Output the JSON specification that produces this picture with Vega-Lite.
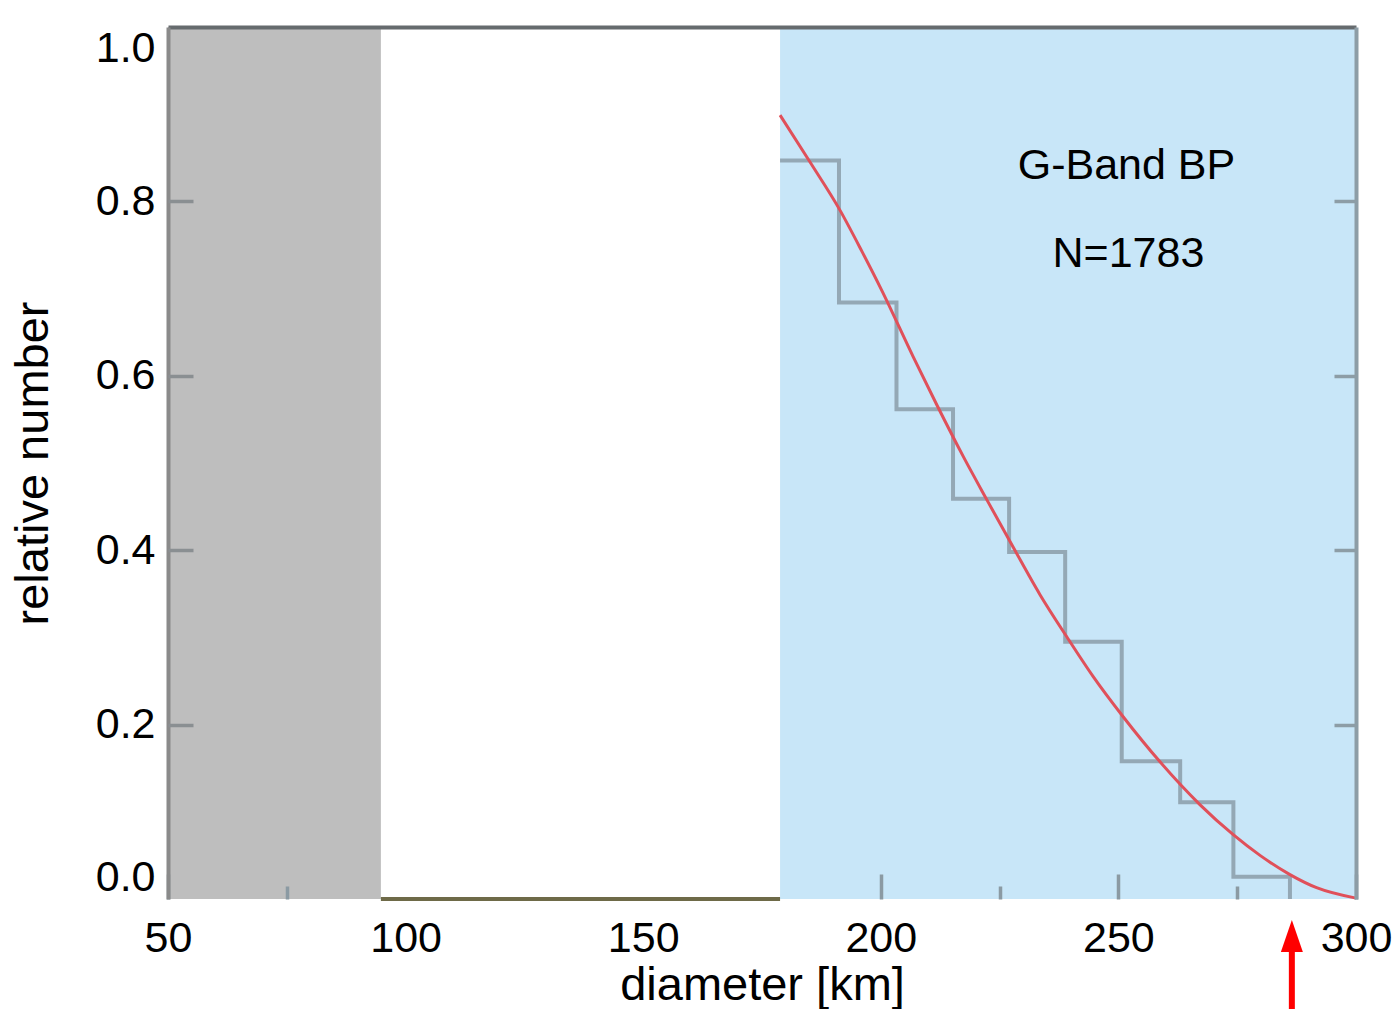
{
  "$schema": "https://vega.github.io/schema/vega-lite/v6.json",
  "width": 1188,
  "height": 872,
  "autosize": {"type": "none"},
  "padding": {"left": 168, "top": 27, "right": 42, "bottom": 110},
  "background": "white",
  "config": {
    "view": {"stroke": null},
    "font": "Liberation Sans",
    "axis": {"grid": false, "labelColor": "black", "titleColor": "black", "titleFontWeight": "normal", "labelFont": "Liberation Sans", "titleFont": "Liberation Sans"}
  },
  "datasets": {
    "bands": [
      {"x0": 50, "x1": 94.8, "band": "excluded"},
      {"x0": 178.8, "x1": 300, "band": "fitted"}
    ],
    "zero": [{"x0": 94.8, "x1": 178.8, "f": 0}],
    "hist": [
      {"d": 178.8, "f": 0.847},
      {"d": 191.2, "f": 0.684},
      {"d": 203.3, "f": 0.5615},
      {"d": 215.2, "f": 0.459},
      {"d": 227.0, "f": 0.398},
      {"d": 238.8, "f": 0.295},
      {"d": 250.7, "f": 0.158},
      {"d": 263.0, "f": 0.111},
      {"d": 274.2, "f": 0.0256},
      {"d": 286.1, "f": 0}
    ],
    "fit": [
      {"d": 178.8, "f": 0.899},
      {"d": 185.0, "f": 0.846},
      {"d": 191.4, "f": 0.79},
      {"d": 196.0, "f": 0.743},
      {"d": 200.2, "f": 0.698},
      {"d": 206.8, "f": 0.622},
      {"d": 211.8, "f": 0.5665},
      {"d": 217.4, "f": 0.507},
      {"d": 222.3, "f": 0.458},
      {"d": 227.9, "f": 0.403},
      {"d": 233.5, "f": 0.349},
      {"d": 239.1, "f": 0.301},
      {"d": 244.7, "f": 0.255},
      {"d": 251.0, "f": 0.209},
      {"d": 258.8, "f": 0.157},
      {"d": 267.2, "f": 0.108},
      {"d": 274.1, "f": 0.074},
      {"d": 279.8, "f": 0.05},
      {"d": 286.1, "f": 0.028},
      {"d": 291.7, "f": 0.013},
      {"d": 300.0, "f": 0.001}
    ],
    "notes": [
      {"d": 251.7, "f": 0.841, "t": "G-Band BP"},
      {"d": 252.1, "f": 0.74, "t": "N=1783"}
    ],
    "arrow": [{"d": 286.5, "tail": -0.13, "neck": -0.055, "head": -0.0424}]
  },
  "resolve": {"axis": {"x": "independent", "y": "independent"}},
  "layer": [
    {
      "data": {"name": "bands"},
      "mark": {"type": "rect", "opacity": 1},
      "encoding": {
        "x": {"field": "x0", "type": "quantitative",
          "scale": {"domain": [50, 300], "nice": false, "zero": false},
          "axis": {"orient": "bottom", "values": [50, 100, 150, 200, 250, 300], "format": "d", "ticks": false, "domain": false,
            "labelFlush": false, "labelFontSize": 43, "labelPadding": 18, "title": "diameter [km]", "titleFontSize": 47, "titlePadding": 2, "zindex": 1}},
        "x2": {"field": "x1"},
        "y": {"datum": 0, "type": "quantitative",
          "scale": {"domain": [0, 1], "nice": false, "zero": false},
          "axis": {"orient": "left", "values": [0, 0.2, 0.4, 0.6, 0.8, 1.0], "format": ".1f", "ticks": false, "domain": true,
            "domainColor": "#8a8a8a", "domainWidth": 4, "labelFontSize": 43, "labelPadding": 13, "labelFlush": true,
            "title": "relative number", "titleFontSize": 47, "titlePadding": 38, "zindex": 1}},
        "y2": {"datum": 1},
        "color": {"field": "band", "type": "nominal", "scale": {"domain": ["excluded", "fitted"], "range": ["#bebebe", "#c8e6f8"]}, "legend": null}
      }
    },
    {
      "mark": {"type": "rule", "color": "#666b6e", "strokeWidth": 4},
      "encoding": {
        "x": {"datum": 50, "type": "quantitative", "axis": null},
        "x2": {"datum": 300},
        "y": {"datum": 0, "type": "quantitative", "axis": null}
      }
    },
    {
      "data": {"name": "zero"},
      "mark": {"type": "rule", "color": "#6e6a48", "strokeWidth": 4},
      "encoding": {
        "x": {"field": "x0", "type": "quantitative", "axis": null},
        "x2": {"field": "x1"},
        "y": {"field": "f", "type": "quantitative", "axis": null}
      }
    },
    {
      "mark": {"type": "rule", "color": "#9aa8b1", "strokeWidth": 3.5},
      "encoding": {
        "x": {"datum": 178.8, "type": "quantitative", "axis": null},
        "y": {"datum": 0.847, "type": "quantitative", "axis": null},
        "y2": {"datum": 1.022}
      }
    },
    {
      "data": {"name": "hist"},
      "mark": {"type": "line", "interpolate": "step-after", "color": "#94a8b5", "strokeWidth": 4},
      "encoding": {
        "x": {"field": "d", "type": "quantitative",
          "axis": {"orient": "bottom", "values": [50, 200, 250, 300], "labels": false, "domain": false, "ticks": true,
            "tickSize": -25, "tickWidth": 3.5, "tickColor": "#8b9aa3", "title": null, "zindex": 1}},
        "y": {"field": "f", "type": "quantitative",
          "axis": {"orient": "left", "values": [0.2, 0.4, 0.6, 0.8], "labels": false, "domain": false, "ticks": true,
            "tickSize": -25, "tickWidth": 3.5, "tickColor": "#8a8f92", "title": null, "zindex": 1}}
      }
    },
    {
      "data": {"name": "fit"},
      "mark": {"type": "line", "interpolate": "monotone", "color": "#e0505a", "strokeWidth": 3},
      "encoding": {
        "x": {"field": "d", "type": "quantitative",
          "axis": {"orient": "bottom", "values": [75, 225, 275], "labels": false, "domain": false, "ticks": true,
            "tickSize": -13, "tickWidth": 3.5, "tickColor": "#8b9aa3", "title": null, "zindex": 1}},
        "y": {"field": "f", "type": "quantitative",
          "axis": {"orient": "right", "values": [0.2, 0.4, 0.6, 0.8], "labels": false, "domain": true, "domainColor": "#8d9da6", "domainWidth": 4,
            "ticks": true, "tickSize": -22, "tickWidth": 3.5, "tickColor": "#8d9da6", "title": null, "zindex": 1}}
      }
    },
    {
      "data": {"name": "notes"},
      "mark": {"type": "text", "fontSize": 43, "font": "Liberation Sans", "color": "black", "align": "center", "baseline": "middle"},
      "encoding": {
        "x": {"field": "d", "type": "quantitative",
          "axis": {"orient": "top", "labels": false, "ticks": false, "domain": true, "domainColor": "#666b6e", "domainWidth": 4, "title": null, "zindex": 1}},
        "y": {"field": "f", "type": "quantitative", "axis": null},
        "text": {"field": "t"}
      }
    },
    {
      "data": {"name": "arrow"},
      "mark": {"type": "rule", "color": "#ff0000", "strokeWidth": 6},
      "encoding": {
        "x": {"field": "d", "type": "quantitative", "axis": null},
        "y": {"field": "tail", "type": "quantitative", "axis": null},
        "y2": {"field": "neck"}
      }
    },
    {
      "data": {"name": "arrow"},
      "mark": {"type": "point", "shape": "M-0.6875,1L0,-1L0.6875,1Z", "filled": true, "color": "#ff0000", "opacity": 1, "size": 1024, "strokeWidth": 0},
      "encoding": {
        "x": {"field": "d", "type": "quantitative", "axis": null},
        "y": {"field": "head", "type": "quantitative", "axis": null}
      }
    }
  ]
}
